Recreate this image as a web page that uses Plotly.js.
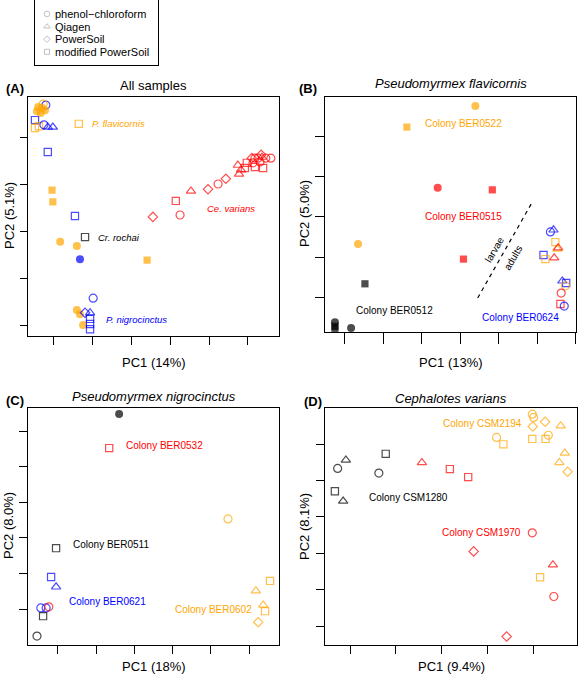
<!DOCTYPE html>
<html><head><meta charset="utf-8">
<script src="https://cdn.plot.ly/plotly-3.0.1.min.js"></script>
<style>html,body{margin:0;padding:0;background:#fff}#chart{width:579px;height:676px}</style>
</head><body><div id="chart"></div>
<script>
// ---------- data ----------
const methods = ['phenol−chloroform', 'Qiagen', 'PowerSoil', 'modified PowerSoil'];
const methodCodes = ['P', 'Q', 'S', 'M'];

// Panel A: all samples (groups: fla, nig, cep, cry)
const A_x = [-0.21,-0.41,-0.31,-0.44,-0.34,-0.23,-0.28,-0.49,-0.49,-0.39,-0.16,-0.03,-0.26,-0.16,0.64,-0.05,-0.03,0.54,0.80,0.16,0.59,0.67,2.40,1.01,0.59,0.67,0.75,0.80,0.93,0.93,0.93,0.93,
  2.55,3.25,3.14,3.53,3.97,4.23,4.43,4.77,4.74,4.82,4.92,4.97,5.13,5.18,5.26,5.10,5.34,5.46,5.59,5.39,5.18,5.36,5.31];
const A_y = [4.68,4.64,4.62,4.55,4.51,4.57,4.70,4.36,4.19,4.23,4.21,4.21,4.26,3.68,4.28,2.87,2.62,2.32,1.87,1.77,1.68,1.40,1.38,0.57,0.32,0.23,0.00,0.26,0.26,0.13,0.02,-0.09,
  2.30,2.34,2.64,2.85,2.89,3.00,3.11,3.21,3.40,3.30,3.34,3.45,3.45,3.55,3.55,3.55,3.62,3.55,3.55,3.34,3.36,3.57,3.47];
const A_method = ['P','P','P','P','P','P','P','M','M','M','Q','Q','P','M','M','M','M','M','M','P','P','P','M','P','P','P','P','S','Q','M','M','M',
  'S','P','M','Q','S','P','S','Q','Q','Q','M','M','P','P','P','S','S','P','P','M','M','Q','P'];
const A_group = ['nig','fla','fla','fla','fla','fla','fla','nig','fla','fla','nig','nig','nig','nig','fla','fla','fla','nig','cry','fla','fla','nig','fla','nig','fla','fla','fla','nig','nig','nig','nig','nig',
  'cep','cep','cep','cep','cep','cep','cep','cep','cep','cep','cep','cep','cep','cep','cep','cep','cep','cep','cep','cep','cep','cep','cep'];
const A_filled = [0,1,1,1,1,1,0,0,0,0,0,0,0,0,0,1,1,0,0,1,1,1,1,0,1,1,1,0,0,0,0,0,
  0,0,0,0,0,0,0,0,0,0,0,0,0,0,0,0,0,0,0,0,0,0,0];

// Panel B: Pseudomyrmex flavicornis
const B_x = [3.39,1.61,2.41,3.83,0.34,3.08,0.52,-0.26,-0.26,-0.26,0.16,5.34,5.42,5.47,5.52,5.54,5.16,5.21,5.44,5.65,5.75,5.73,5.62,5.60,5.70];
const B_y = [4.74,4.22,2.72,2.67,1.33,0.96,0.35,-0.60,-0.70,-0.75,-0.74,1.63,1.68,1.38,1.21,1.24,1.06,0.96,0.99,0.42,0.37,0.30,0.12,-0.15,-0.20];
const B_method = ['P','M','P','M','P','M','M','P','M','M','P','P','Q','M','Q','Q','M','M','Q','Q','M','P','P','M','P'];
const B_group = ['BER0522','BER0522','BER0515','BER0515','BER0522','BER0515','BER0512','BER0512','BER0512','BER0512','BER0512',
  'BER0624','BER0624','BER0522','BER0522','BER0515','BER0624','BER0522','BER0515','BER0624','BER0624','BER0522','BER0515','BER0515','BER0624'];
const B_filled = [1,1,1,1,1,1,1,1,1,1,1,0,0,0,0,0,0,0,0,0,0,0,0,0,0];
const B_divider_x = [3.45, 4.87];
const B_divider_y = [0.00, 2.37];

// Panel C: Pseudomyrmex nigrocinctus
const C_x = [1.60,1.34,4.45,-0.05,-0.18,-0.05,-0.45,-0.31,-0.24,-0.39,-0.55,5.55,5.18,5.37,5.42,5.24];
const C_y = [5.48,4.52,2.53,1.71,0.90,0.62,0.03,0.03,0.06,-0.20,-0.76,0.79,0.51,0.11,-0.06,-0.37];
const C_method = ['P','M','P','M','M','Q','P','P','P','M','P','M','Q','Q','M','S'];
const C_group = ['BER0511','BER0532','BER0602','BER0511','BER0621','BER0621','BER0621','BER0621','BER0532','BER0511','BER0511','BER0602','BER0602','BER0602','BER0602','BER0602'];
const C_filled = [1,0,0,0,0,0,0,0,0,0,0,0,0,0,0,0];

// Panel D: Cephalotes varians
const D_x = [-0.09,-0.27,-0.33,-0.15,0.63,0.78, 1.57,2.18,2.58,3.98,2.70,4.43,4.45,3.42,
  3.98,4.01,3.99,4.26,4.60,3.20,3.35,3.98,4.27,4.33,4.69,4.57,4.75,4.15];
const D_y = [4.56,4.33,3.70,3.43,4.20,4.73, 4.49,4.31,4.09,2.56,2.05,1.68,0.81,-0.29,
  5.82,5.73,5.48,5.61,5.50,5.18,4.99,5.14,5.14,5.24,4.75,4.49,4.24,1.34];
const D_method = ['Q','P','M','Q','P','M', 'Q','M','M','P','S','Q','P','S',
  'P','P','S','S','Q','P','M','M','M','P','Q','Q','S','M'];
const D_group = ['CSM1280','CSM1280','CSM1280','CSM1280','CSM1280','CSM1280',
  'CSM1970','CSM1970','CSM1970','CSM1970','CSM1970','CSM1970','CSM1970','CSM1970',
  'CSM2194','CSM2194','CSM2194','CSM2194','CSM2194','CSM2194','CSM2194','CSM2194','CSM2194','CSM2194','CSM2194','CSM2194','CSM2194','CSM2194'];
const D_filled = new Array(28).fill(0);

// ---------- styling ----------
const ORANGE = '#FFA500', RED = '#FF0000', BLUE = '#0000FF', BLACK = '#000000';
const colorMap = {
  fla: ORANGE, nig: BLUE, cep: RED, cry: BLACK,
  BER0522: ORANGE, BER0515: RED, BER0512: BLACK, BER0624: BLUE,
  BER0532: RED, BER0511: BLACK, BER0621: BLUE, BER0602: ORANGE,
  CSM2194: ORANGE, CSM1280: BLACK, CSM1970: RED
};
const symMap = {P: 'circle', Q: 'triangle-up', S: 'diamond', M: 'square'};
const sizeMap = {P: 8, Q: 8.2, S: 7.2, M: 7.2};
const FONT = 'Liberation Sans, Arial, Helvetica, sans-serif';
const W = 579, H = 676;
const px = v => v / W, py = v => 1 - v / H;

function pointsTrace(xs, ys, ms, gs, fs, xa, ya) {
  return {
    type: 'scatter', mode: 'markers', x: xs, y: ys, xaxis: xa, yaxis: ya,
    hoverinfo: 'skip', cliponaxis: false,
    marker: {
      symbol: ms.map((m, i) => symMap[m] + (fs[i] ? '' : '-open')),
      size: ms.map(m => sizeMap[m]),
      color: gs.map(g => colorMap[g]),
      line: {width: fs.map(f => f ? 0 : 1.2), color: gs.map(g => colorMap[g])}
    }
  };
}

const traces = [
  pointsTrace(A_x, A_y, A_method, A_group, A_filled, 'x', 'y'),
  {type: 'scatter', mode: 'lines', x: B_divider_x, y: B_divider_y, xaxis: 'x2', yaxis: 'y2',
   line: {color: '#000', width: 1.2, dash: '4px,4px'}, hoverinfo: 'skip'},
  pointsTrace(B_x, B_y, B_method, B_group, B_filled, 'x2', 'y2'),
  pointsTrace(C_x, C_y, C_method, C_group, C_filled, 'x3', 'y3'),
  pointsTrace(D_x, D_y, D_method, D_group, D_filled, 'x4', 'y4'),
  {type: 'scatter', mode: 'markers', x: methods.map(() => 0.7), y: methods.map((m, i) => i),
   xaxis: 'x5', yaxis: 'y5', hoverinfo: 'skip',
   marker: {symbol: methodCodes.map(c => symMap[c] + '-open'), size: methodCodes.map(c => sizeMap[c] * 0.7),
            color: '#a8a8a8', line: {width: 1, color: '#a8a8a8'}}}
];

function ax(domain, range, tickvals, anchor, ticklen) {
  return {domain, range, tickvals, anchor, ticks: 'outside', ticklen: ticklen || 8, tickwidth: 1,
    tickcolor: '#000', showticklabels: false, showgrid: false, zeroline: false,
    showline: true, mirror: true, linecolor: '#000', linewidth: 1, fixedrange: true};
}

const AX = [px(28), px(279)], BX = [px(325), px(576)], DX = [px(325), px(577)];
const TOPY = [py(336), py(97)], BTOPY = [py(332), py(97)], BOTY = [py(645), py(408)];

const ann = [];
function txt(text, x, y, xref, yref, color, size, opts) {
  ann.push(Object.assign({text, x, y, xref, yref, showarrow: false, xanchor: 'left', yanchor: 'middle',
    font: {family: FONT, size: size, color: color}}, opts || {}));
}
// panel titles & letters
txt('All samples', 0.5, py(85), 'x domain', 'paper', '#000', 13, {xanchor: 'center'});
txt('<i>Pseudomyrmex flavicornis</i>', 0.5, py(84), 'x2 domain', 'paper', '#000', 13, {xanchor: 'center'});
txt('<i>Pseudomyrmex nigrocinctus</i>', 0.5, py(397), 'x3 domain', 'paper', '#000', 13, {xanchor: 'center'});
txt('<i>Cephalotes varians</i>', 0.5, py(398), 'x4 domain', 'paper', '#000', 13, {xanchor: 'center'});
txt('<b>(A)</b>', px(4), py(88), 'paper', 'paper', '#000', 13);
txt('<b>(B)</b>', px(297), py(88), 'paper', 'paper', '#000', 13);
txt('<b>(C)</b>', px(4), py(400), 'paper', 'paper', '#000', 13);
txt('<b>(D)</b>', px(302), py(401), 'paper', 'paper', '#000', 13);
// axis titles
txt('PC1 (14%)', px(153.5), py(362), 'paper', 'paper', '#000', 13, {xanchor: 'center'});
txt('PC1 (13%)', px(451), py(362), 'paper', 'paper', '#000', 13, {xanchor: 'center'});
txt('PC1 (18%)', px(153.5), py(666), 'paper', 'paper', '#000', 13, {xanchor: 'center'});
txt('PC1 (9.4%)', px(451), py(666), 'paper', 'paper', '#000', 13, {xanchor: 'center'});
txt('PC2 (5.1%)', px(9), py(216), 'paper', 'paper', '#000', 13, {xanchor: 'center', textangle: -90});
txt('PC2 (5.0%)', px(305), py(214), 'paper', 'paper', '#000', 13, {xanchor: 'center', textangle: -90});
txt('PC2 (8.0%)', px(8), py(526), 'paper', 'paper', '#000', 13, {xanchor: 'center', textangle: -90});
txt('PC2 (8.1%)', px(304), py(527), 'paper', 'paper', '#000', 13, {xanchor: 'center', textangle: -90});
// panel A labels
txt('<i>P. flavicornis</i>', 0.93, 4.28, 'x', 'y', ORANGE, 9.5);
txt('<i>Ce. varians</i>', 3.89, 2.47, 'x', 'y', RED, 9.5);
txt('<i>Cr. rochai</i>', 1.08, 1.87, 'x', 'y', BLACK, 9.5);
txt('<i>P. nigrocinctus</i>', 1.29, 0.11, 'x', 'y', BLUE, 9.5);
// panel B labels
txt('Colony BER0522', 2.02, 4.30, 'x2', 'y2', ORANGE, 10);
txt('Colony BER0515', 2.02, 2.00, 'x2', 'y2', RED, 10);
txt('Colony BER0512', 0.23, -0.30, 'x2', 'y2', BLACK, 10);
txt('Colony BER0624', 3.50, -0.49, 'x2', 'y2', BLUE, 10);
txt('larvae', 3.89, 1.19, 'x2', 'y2', BLACK, 10, {xanchor: 'center', textangle: -60});
txt('adults', 4.38, 0.99, 'x2', 'y2', BLACK, 10, {xanchor: 'center', textangle: -60});
// panel C labels
txt('Colony BER0532', 1.73, 4.58, 'x3', 'y3', RED, 10);
txt('Colony BER0511', 0.34, 1.80, 'x3', 'y3', BLACK, 10);
txt('Colony BER0621', 0.24, 0.20, 'x3', 'y3', BLUE, 10);
txt('Colony BER0602', 3.01, 0.00, 'x3', 'y3', ORANGE, 10);
// panel D labels
txt('Colony CSM2194', 1.98, 5.55, 'x4', 'y4', ORANGE, 10);
txt('Colony CSM1280', 0.37, 3.54, 'x4', 'y4', BLACK, 10);
txt('Colony CSM1970', 1.97, 2.56, 'x4', 'y4', RED, 10);
// legend text
methods.forEach((m, i) => txt(m, 1.3, i, 'x5', 'y5', '#000', 11));

const layout = {
  width: W, height: H, margin: {l: 0, r: 0, t: 0, b: 0},
  paper_bgcolor: '#fff', plot_bgcolor: 'rgba(0,0,0,0)', showlegend: false,
  font: {family: FONT, color: '#000'},
  xaxis: ax(AX, [-0.67, 5.80], [0,1,2,3,4,5], 'y', 8),
  yaxis: ax(TOPY, [-0.234, 4.851], [0,1,2,3,4], 'x', 7),
  xaxis2: ax(BX, [-0.518, 6.005], [0,1,2,3,4,5,6], 'y2', 11),
  yaxis2: ax(BTOPY, [-0.840, 4.963], [0,1,2,3,4], 'x2', 9),
  xaxis3: ax(AX, [-0.785, 5.785], [0,1,2,3,4,5], 'y3', 8),
  yaxis3: ax(BOTY, [-1.011, 5.646], [0,1,2,3,4,5], 'x3', 8),
  xaxis4: ax(DX, [-0.546, 4.956], [0,1,2,3,4], 'y4', 8),
  yaxis4: ax(BOTY, [-0.522, 5.989], [0,1,2,3,4,5], 'x4', 8),
  xaxis5: Object.assign(ax([px(35), px(158)], [-0.5, 11.8], [], 'y5', 0), {ticks: ''}),
  yaxis5: Object.assign(ax([py(65), 1], [4.05, -1.11], [], 'x5', 0), {ticks: ''}),
  annotations: ann
};

Plotly.newPlot('chart', traces, layout, {displayModeBar: false, staticPlot: true});
</script>
</body></html>
